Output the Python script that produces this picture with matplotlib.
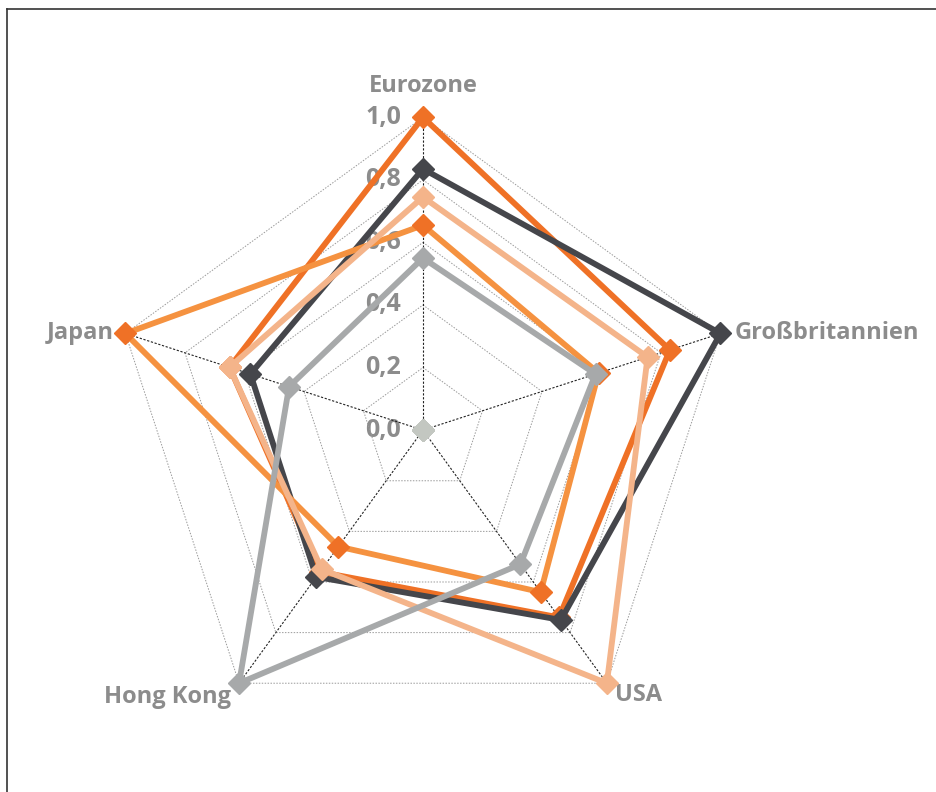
import numpy as np
import matplotlib
matplotlib.use("Agg")
from matplotlib import pyplot as plt
from matplotlib.lines import Line2D

categories = ["Eurozone", "Großbritannien", "USA", "Hong Kong", "Japan"]
series_a = [1.00, 0.83, 0.74, 0.56, 0.65]
series_b = [0.655, 0.59, 0.64, 0.46, 1.00]
series_c = [0.835, 1.00, 0.75, 0.58, 0.58]
series_d = [0.745, 0.755, 1.00, 0.55, 0.65]
series_e = [0.55, 0.58, 0.53, 1.00, 0.45]
series_f = [0.0, 0.0, 0.0, 0.0, 0.0]
tick_values = [0.0, 0.2, 0.4, 0.6, 0.8, 1.0]
tick_labels = ["0,0", "0,2", "0,4", "0,6", "0,8", "1,0"]

label_color = "#8C8C8C"
font = "Open Sans"

fig = plt.figure(figsize=(9.37, 7.92), dpi=100)
ax = fig.add_axes([0.1174, 0.0619, 0.668, 0.790], projection="polar")
ax.set_theta_offset(np.pi / 2)
ax.set_theta_direction(-1)
ax.set_ylim(0, 1)
ax.grid(False)
ax.spines["polar"].set_visible(False)
ax.set_xticks([])
ax.set_yticks([])
ax.patch.set_alpha(0)

n = len(categories)
angles = np.arange(n) * 2 * np.pi / n
closed = np.append(angles, angles[0])

# polygon grid
for t in tick_values[1:]:
    ax.plot(closed, [t] * (n + 1), color="#9A9A9A", lw=0.7, ls=(0, (1.5, 1.5)), zorder=1)
# spokes
for a in angles:
    ax.plot([a, a], [0, 1], color="#222222", lw=0.8, ls=(0, (2, 1.5)), zorder=1)

def draw(vals, line_color, marker_color, z):
    v = np.append(vals, vals[0])
    ax.plot(closed, v, color=line_color, lw=4.2, zorder=z, solid_joinstyle="miter",
            clip_on=False)
    ax.plot(angles, vals, ls="none", marker="D", ms=11.5, color=marker_color,
            markeredgecolor=marker_color, zorder=z + 0.5, clip_on=False)

draw(series_a, "#EF7126", "#EF7126", 2)
draw(series_c, "#45464B", "#45464B", 3)
draw(series_b, "#F59240", "#EF7126", 4)
draw(series_d, "#F4B48A", "#F4B48A", 5)
draw(series_e, "#A7A9AA", "#A7A9AA", 6)
draw(series_f, "#C3C7C1", "#C3C7C1", 7)

# radial tick labels
for t, lab in zip(tick_values, tick_labels):
    ax.annotate(lab, xy=(0, t), xytext=(-22, 0), textcoords="offset pixels",
                ha="right", va="center", color=label_color, fontsize=18,
                fontweight="bold", family=font, zorder=0)

# category labels
offsets = [(0, 31, "center", "center"), (14, 0, "left", "center"),
           (8, -12, "left", "center"), (-8, -14, "right", "center"),
           (-12, 0, "right", "center")]
for a, lab, (dx, dy, ha, va) in zip(angles, categories, offsets):
    ax.annotate(lab, xy=(a, 1.0), xytext=(dx, dy), textcoords="offset pixels",
                ha=ha, va=va, color=label_color, fontsize=17,
                fontweight="bold", family=font)

# frame lines at top and left
fig.add_artist(Line2D([7 / 937, 1], [1 - 9 / 792, 1 - 9 / 792], color="#333333", lw=1.2))
fig.add_artist(Line2D([7 / 937, 7 / 937], [0, 1 - 9 / 792], color="#333333", lw=1.2))

fig.savefig("out.png", dpi=100)
